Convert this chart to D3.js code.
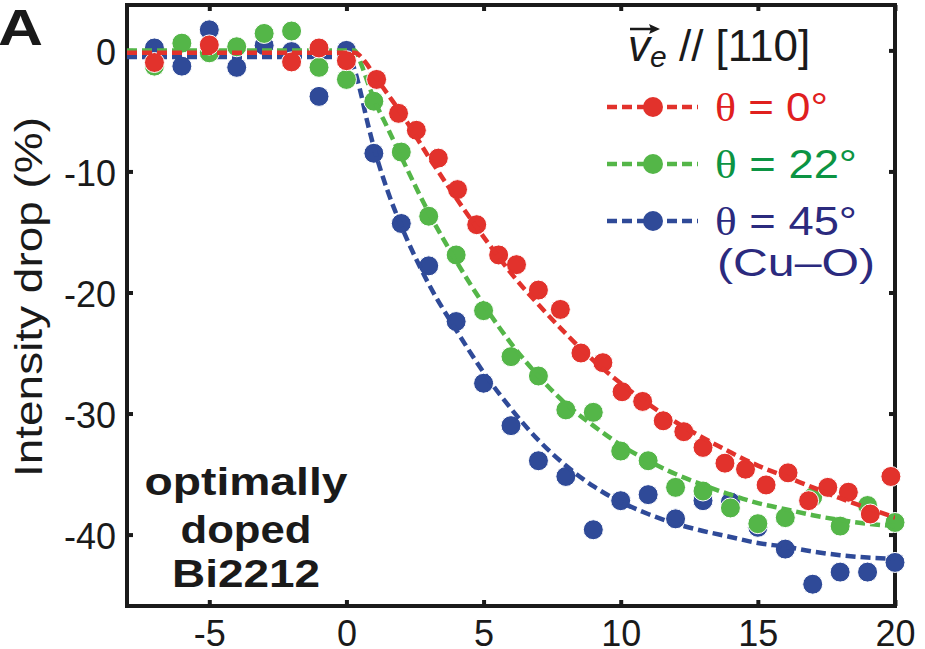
<!DOCTYPE html>
<html>
<head>
<meta charset="utf-8">
<script src="https://cdn.jsdelivr.net/npm/d3@7"></script>
<style>
  body { margin: 0; background: #fff; }
  svg { display: block; font-family: "Liberation Sans", Arial, sans-serif; }
</style>
</head>
<body>
<svg id="chart" width="925" height="649"></svg>
<script>
var redX = [-7, -5, -2, -1, 0, 1.1, 1.9, 2.55, 3.35, 4.05, 4.75, 5.55, 6.2, 7.0, 7.8, 8.55, 9.35, 10.05, 10.8, 11.55, 12.3, 13.0, 13.8, 14.55, 15.3, 16.1, 16.85, 17.55, 18.3, 19.1, 19.85];
var redY = [-1.0, 0.45, -0.95, 0.2, -0.85, -2.4, -5.2, -6.6, -8.9, -11.5, -14.4, -16.9, -17.7, -19.8, -21.4, -25.0, -25.8, -28.2, -29.0, -30.6, -31.5, -32.8, -34.1, -34.6, -35.9, -34.9, -37.2, -36.1, -36.5, -38.3, -35.2];

var gbX = [-7, -6, -5, -4, -3, -2, -1, 0, 1, 2, 3, 4, 5, 6, 7, 8, 9, 10, 11, 12, 13, 14, 15, 16, 17, 18, 19, 20];
var greenY = [-1.3, 0.6, -0.2, 0.3, 1.4, 1.6, -1.4, -2.4, -4.2, -8.4, -13.7, -16.9, -21.5, -25.3, -26.9, -29.7, -29.9, -33.1, -33.9, -36.1, -36.4, -37.8, -39.1, -38.6, -36.9, -39.3, -37.6, -39.0];
var blueY = [0.2, -1.3, 1.7, -1.4, 0.4, -0.1, -3.8, 0.0, -8.5, -14.3, -17.8, -22.4, -27.5, -31.0, -33.9, -35.2, -39.6, -37.2, -36.7, -38.7, -37.2, -37.3, -39.4, -41.2, -44.1, -43.1, -43.1, -42.3];

// fitted curves (dashed), also
var redFitX = [-8, 0.3, 0.7, 1, 1.5, 2, 3, 4, 5, 6, 7, 8, 9, 10, 11, 12, 13, 14, 15, 16, 17, 18, 19, 20];
var redFitY = [-0.2, -0.2, -1.0, -2.0, -3.6, -5.2, -8.8, -12.2, -15.4, -18.4, -21.0, -23.4, -25.6, -27.5, -29.2, -30.7, -32.0, -33.2, -34.3, -35.2, -36.1, -37.0, -37.8, -38.6];
var greenFitX = [-8, 0.3, 0.55, 0.8, 1, 1.5, 2, 3, 4, 5, 6, 7, 8, 9, 10, 11, 12, 13, 14, 15, 16, 17, 18, 19, 20];
var greenFitY = [0, 0, -1.2, -2.8, -4.0, -6.4, -8.8, -13.4, -17.4, -21.0, -24.2, -26.9, -29.2, -31.0, -32.6, -33.9, -35.0, -35.9, -36.7, -37.4, -37.9, -38.4, -38.8, -39.1, -39.3];
var blueFitX = [-8, 0.05, 0.25, 0.5, 0.75, 1, 1.5, 2, 3, 4, 5, 6, 7, 8, 9, 10, 11, 12, 13, 14, 15, 16, 17, 18, 19, 20];
var blueFitY = [-0.55, -0.55, -1.3, -3.3, -5.8, -8.0, -11.6, -14.5, -19.3, -23.1, -26.6, -29.6, -32.2, -34.3, -36.0, -37.3, -38.3, -39.1, -39.7, -40.2, -40.7, -41.0, -41.4, -41.7, -41.9, -42.0];

var xTicks = [-5, 0, 5, 10, 15, 20];
var yTicks = [0, -10, -20, -30, -40];
var legendLabels = ["\u03b8 = 0\u00b0", "\u03b8 = 22\u00b0", "\u03b8 = 45\u00b0"];

var colors = { red: "#e2322c", green: "#54b648", blue: "#2f4a98" };
var textColors = { red: "#e0201e", green: "#0c9443", blue: "#2b2a7e" };
var ink = "#1a1a1a";

var svg = d3.select("#chart");
// plot frame (window.top is read-only, so no bare "top")
var pL = 127, pR = 895, pT = 5, pB = 606;

var x = d3.scaleLinear().domain([-8, 20]).range([pL, pR]);
var y = d3.scaleLinear().domain([-45.9, 3.75]).range([pB, pT]);

svg.append("clipPath").attr("id", "plot")
  .append("rect").attr("x", pL).attr("y", pT).attr("width", pR - pL).attr("height", pB - pT);

// frame first, the dots sit on top of it at the right edge
svg.append("rect")
  .attr("x", pL).attr("y", pT)
  .attr("width", pR - pL).attr("height", pB - pT)
  .attr("fill", "none").attr("stroke", ink).attr("stroke-width", 4);

// inward ticks on all four sides, plain hyphen minus like the original
var tickLen = 6;
var plain = function(d) { return String(d); };
var bottomAxis = d3.axisBottom(x).tickValues(xTicks).tickSize(-tickLen).tickPadding(14).tickFormat(plain);
var topAxis = d3.axisTop(x).tickValues(xTicks).tickSize(-tickLen).tickFormat("");
var leftAxis = d3.axisLeft(y).tickValues(yTicks).tickSize(-tickLen).tickPadding(11).tickFormat(plain);
var rightAxis = d3.axisRight(y).tickValues(yTicks).tickSize(-tickLen).tickFormat("");

function styleAxis(g) {
  g.select(".domain").remove();
  g.selectAll(".tick line").attr("stroke", ink).attr("stroke-width", 4);
  g.selectAll(".tick text").attr("fill", ink).style("font-size", "36px").style("font-family", "'Liberation Sans', Arial, sans-serif");
}

svg.append("g").attr("transform", "translate(0," + pB + ")").call(bottomAxis).call(styleAxis);
svg.append("g").attr("transform", "translate(0," + pT + ")").call(topAxis).call(styleAxis);
svg.append("g").attr("transform", "translate(" + pL + ",0)").call(leftAxis).call(styleAxis)
  .selectAll(".tick text").attr("dy", "0.38em");
svg.append("g").attr("transform", "translate(" + pR + ",0)").call(rightAxis).call(styleAxis);

// series: blue underneath, red on top
var series = [
  { key: "blue", xs: gbX, ys: blueY, fx: blueFitX, fy: blueFitY },
  { key: "green", xs: gbX, ys: greenY, fx: greenFitX, fy: greenFitY },
  { key: "red", xs: redX, ys: redY, fx: redFitX, fy: redFitY }
];

var line = d3.line()
  .x(function(d) { return x(d[0]); })
  .y(function(d) { return y(d[1]); })
  .curve(d3.curveMonotoneX);

series.forEach(function(s) {
  var pts = s.xs.map(function(v, i) { return [v, s.ys[i]]; });
  svg.append("g").selectAll("circle").data(pts).enter().append("circle")
    .attr("cx", function(d) { return x(d[0]); })
    .attr("cy", function(d) { return y(d[1]); })
    .attr("r", 10)
    .attr("fill", colors[s.key])
    .attr("stroke", "#fff")
    .attr("stroke-width", 1);

  var fit = s.fx.map(function(v, i) { return [v, s.fy[i]]; });
  svg.append("path").datum(fit)
    .attr("clip-path", "url(#plot)")
    .attr("d", line)
    .attr("fill", "none")
    .attr("stroke", colors[s.key])
    .attr("stroke-width", 4.5)
    .attr("stroke-dasharray", "10,5");
});

// y label
svg.append("text")
  .attr("transform", "translate(42,297) rotate(-90)")
  .attr("text-anchor", "middle")
  .attr("fill", ink)
  .style("font-size", "38px")
  .attr("textLength", 360)
  .attr("lengthAdjust", "spacingAndGlyphs")
  .text("Intensity drop (%)");

// panel letter
svg.append("text")
  .attr("x", -2).attr("y", 45)
  .attr("fill", ink)
  .style("font-size", "50px").style("font-weight", "bold")
  .attr("textLength", 45).attr("lengthAdjust", "spacingAndGlyphs")
  .text("A");

// sample note
var noteLines = ["optimally", "doped", "Bi2212"];
var noteWidths = [203, 131, 148];
var noteBase = [495, 543, 587];
noteLines.forEach(function(t, i) {
  svg.append("text")
    .attr("x", 246).attr("y", noteBase[i])
    .attr("text-anchor", "middle")
    .attr("fill", ink)
    .style("font-size", "38px").style("font-weight", "bold")
    .attr("textLength", noteWidths[i]).attr("lengthAdjust", "spacingAndGlyphs")
    .text(t);
});

// legend header: v_e // [110]
var head = svg.append("text").attr("x", 628).attr("y", 61).attr("fill", ink).style("font-size", "44px");
head.append("tspan").style("font-style", "italic").text("v");
head.append("tspan").style("font-style", "italic").style("font-size", "30px").attr("dy", 6).text("e");
head.append("tspan").attr("dy", -6).text(" // [110]");
svg.append("line")
  .attr("x1", 630).attr("y1", 29).attr("x2", 652).attr("y2", 29)
  .attr("stroke", ink).attr("stroke-width", 2.5);
svg.append("path")
  .attr("d", "M660,29 L649,24 L651,29 L649,34 Z")
  .attr("fill", ink);

// legend rows
var legendKeys = ["red", "green", "blue"];
var legendY = d3.scalePoint().domain(legendKeys).range([107, 221]);
var legendWidths = [113, 142, 142];
legendKeys.forEach(function(k, i) {
  var cy = legendY(k);
  svg.append("line")
    .attr("x1", 607).attr("x2", 698).attr("y1", cy).attr("y2", cy)
    .attr("stroke", colors[k]).attr("stroke-width", 4.5)
    .attr("stroke-dasharray", "10,5");
  svg.append("circle").attr("cx", 653).attr("cy", cy).attr("r", 10).attr("fill", colors[k]);
  var t = svg.append("text")
    .attr("x", 715).attr("y", cy + 14)
    .attr("fill", textColors[k])
    .style("font-size", "40px")
    .attr("textLength", legendWidths[i]).attr("lengthAdjust", "spacingAndGlyphs");
  t.append("tspan").style("font-family", "'Liberation Serif', 'DejaVu Serif', serif").text(legendLabels[i].charAt(0));
  t.append("tspan").text(legendLabels[i].slice(1));
});

svg.append("text")
  .attr("x", 717).attr("y", 276)
  .attr("fill", textColors.blue)
  .style("font-size", "38px")
  .attr("textLength", 158).attr("lengthAdjust", "spacingAndGlyphs")
  .text("(Cu\u2013O)");
</script>
</body>
</html>
